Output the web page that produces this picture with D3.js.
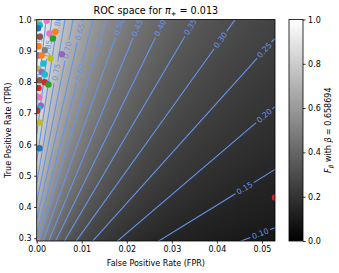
<!DOCTYPE html>
<html>
<head>
<meta charset="utf-8">
<script src="https://cdn.jsdelivr.net/npm/d3@7"></script>
<style>
  body { margin: 0; background: #fff; }
  text { font-family: "DejaVu Sans", sans-serif; }
</style>
</head>
<body>
<svg id="chart"></svg>
<script>
const width = 339, height = 273;
const margin = { top: 19.5, right: 64, bottom: 32, left: 36.7 };

const prior = 0.013;
const beta = 0.658694;

// contour levels of F-beta and where (TPR) each label sits
const levels = [0.05, 0.10, 0.15, 0.20, 0.25, 0.30, 0.35, 0.40, 0.45, 0.50,
                0.55, 0.60, 0.65, 0.70, 0.75, 0.80, 0.85, 0.90, 0.95];
const labelTpr = [null, 0.315, 0.46, 0.692, 0.902, 0.934, 0.976, 0.973, 0.973, 0.976,
                  0.911, 0.831, 0.96, 0.902, 0.831, 0.982, 0.908, 0.80, 0.93];

// classifiers in ROC space (index into tab10 cycle)
const pointFpr   = [0, 0.0007, 0.0022, 0.0041, 0.0028, 0.0036, 0.0007, 0.0003, 0.0004, 0.0004,
                    0.0011, 0.0018, 0.0056, 0.0031, 0.0015, 0.0001, 0.0011, 0.0018, 0.0006, 0.0018,
                    0.0026, 0.0004, 0.0006, 0.0009, 0.0004, 0.0001, 0.0007, 0.0006, 0, 0.0529];
const pointTpr   = [0.996, 0.982, 0.996, 0.961, 0.955, 0.939, 0.945, 0.972, 0.915, 0.885,
                    0.885, 0.902, 0.889, 0.875, 0.859, 0.843, 0.832, 0.824, 0.805, 0.799,
                    0.792, 0.781, 0.751, 0.724, 0.717, 0.708, 0.670, 0.588, 0.291, 0.43];
const pointModel = [8, 9, 6, 1, 6, 2, 5, 0, 1, 4,
                    1, 7, 4, 8, 9, 8, 4, 9, 5, 3,
                    2, 3, 6, 4, 9, 3, 8, 0, 6, 3];

const cbTicks = [0, 0.2, 0.4, 0.6, 0.8, 1.0];
const xTicks = [0, 0.01, 0.02, 0.03, 0.04, 0.05];
const yTicks = [0.3, 0.4, 0.5, 0.6, 0.7, 0.8, 0.9, 1.0];

const b2 = beta * beta;
const fbeta = (fpr, tpr) => (1 + b2) * prior * tpr / (prior * tpr + b2 * prior + (1 - prior) * fpr);
const lineTpr = (c, fpr) => c * (b2 * prior + (1 - prior) * fpr) / (prior * (1 + b2 - c));
const lineFpr = (c, tpr) => (tpr * prior * (1 + b2 - c) - c * b2 * prior) / (c * (1 - prior));

const plotRight = 275;
const plotBottom = 241;

const x = d3.scaleLinear().domain([0, d3.max(pointFpr)]).range([margin.left, plotRight]);
const y = d3.scaleLinear().domain([d3.min(pointTpr), 1]).range([plotBottom, margin.top]);

const svg = d3.select('#chart').attr('width', width).attr('height', height);

svg.append('clipPath').attr('id', 'plot-clip')
  .append('rect')
    .attr('x', margin.left).attr('y', margin.top)
    .attr('width', plotRight - margin.left).attr('height', plotBottom - margin.top);

// background heat map
const pw = Math.round(plotRight - margin.left), ph = Math.round(plotBottom - margin.top);
const canvas = document.createElement('canvas');
canvas.width = pw; canvas.height = ph;
const ctx = canvas.getContext('2d');
const img = ctx.createImageData(pw, ph);
for (let j = 0; j < ph; j++) {
  const tpr = y.invert(margin.top + (j + 0.5) * (plotBottom - margin.top) / ph);
  for (let i = 0; i < pw; i++) {
    const fpr = x.invert(margin.left + (i + 0.5) * (plotRight - margin.left) / pw);
    const v = Math.round(Math.max(0, Math.min(1, fbeta(fpr, tpr))) * 255);
    const k = (j * pw + i) * 4;
    img.data[k] = v; img.data[k + 1] = v; img.data[k + 2] = v; img.data[k + 3] = 255;
  }
}
ctx.putImageData(img, 0, 0);
svg.append('image')
  .attr('x', margin.left).attr('y', margin.top)
  .attr('width', plotRight - margin.left).attr('height', plotBottom - margin.top)
  .attr('preserveAspectRatio', 'none')
  .attr('href', canvas.toDataURL());

// contour lines with inline labels
const contourColor = '#6495ed';
const contours = svg.append('g').attr('clip-path', 'url(#plot-clip)');
levels.forEach((c, i) => {
  const p0 = [x(0), y(lineTpr(c, 0))];
  const p1 = [x(x.domain()[1]), y(lineTpr(c, x.domain()[1]))];
  const dx = p1[0] - p0[0], dy = p1[1] - p0[1];
  const len = Math.hypot(dx, dy);
  const u = [dx / len, dy / len];
  if (labelTpr[i] == null) {
    contours.append('line')
      .attr('x1', p0[0]).attr('y1', p0[1]).attr('x2', p1[0]).attr('y2', p1[1])
      .attr('stroke', contourColor).attr('stroke-width', 1.1);
    return;
  }
  const cx = x(lineFpr(c, labelTpr[i])), cy = y(labelTpr[i]);
  const angle = Math.atan2(dy, dx) * 180 / Math.PI;
  const label = contours.append('text')
    .attr('transform', `translate(${cx},${cy}) rotate(${angle})`)
    .attr('text-anchor', 'middle')
    .attr('dy', '0.35em')
    .attr('font-size', 7.8)
    .attr('fill', contourColor)
    .text(d3.format('.2f')(c));
  const half = label.node().getComputedTextLength() / 2 + 2;
  contours.append('line')
    .attr('x1', p0[0]).attr('y1', p0[1])
    .attr('x2', cx - u[0] * half).attr('y2', cy - u[1] * half)
    .attr('stroke', contourColor).attr('stroke-width', 1.1);
  contours.append('line')
    .attr('x1', cx + u[0] * half).attr('y1', cy + u[1] * half)
    .attr('x2', p1[0]).attr('y2', p1[1])
    .attr('stroke', contourColor).attr('stroke-width', 1.1);
});

// classifiers
const color = d3.scaleOrdinal().domain(d3.range(10)).range(d3.schemeCategory10);
svg.append('g').attr('clip-path', 'url(#plot-clip)')
  .selectAll('circle')
  .data(pointFpr.map((f, i) => ({ fpr: f, tpr: pointTpr[i], model: pointModel[i] })))
  .enter()
  .append('circle')
    .attr('cx', d => x(d.fpr))
    .attr('cy', d => y(d.tpr))
    .attr('r', 3.2)
    .attr('fill', d => color(d.model));

// frame
svg.append('rect')
  .attr('x', margin.left).attr('y', margin.top)
  .attr('width', plotRight - margin.left).attr('height', plotBottom - margin.top)
  .attr('fill', 'none').attr('stroke', '#000').attr('stroke-width', 0.8);

// axes
const styleAxis = g => {
  g.select('.domain').remove();
  g.selectAll('.tick line').attr('stroke', '#000').attr('stroke-width', 0.8);
  g.selectAll('.tick text').attr('font-size', 8).attr('fill', '#000')
    .attr('font-family', '"DejaVu Sans", sans-serif');
};
svg.append('g')
  .attr('transform', `translate(0,${plotBottom})`)
  .call(d3.axisBottom(x).tickValues(xTicks).tickFormat(d3.format('.2f')).tickSize(2.6).tickPadding(2.5))
  .call(styleAxis);
svg.append('g')
  .attr('transform', `translate(${margin.left},0)`)
  .call(d3.axisLeft(y).tickValues(yTicks).tickFormat(d3.format('.1f')).tickSize(2.6).tickPadding(2.5))
  .call(styleAxis);

svg.append('text')
  .attr('x', (margin.left + plotRight) / 2).attr('y', 266)
  .attr('text-anchor', 'middle').attr('font-size', 8)
  .text('False Positive Rate (FPR)');
svg.append('text')
  .attr('transform', `translate(11,${(margin.top + plotBottom) / 2}) rotate(-90)`)
  .attr('text-anchor', 'middle').attr('font-size', 8)
  .text('True Positive Rate (TPR)');

// title
const title = svg.append('text')
  .attr('x', (margin.left + plotRight) / 2).attr('y', 13.5)
  .attr('text-anchor', 'middle').attr('font-size', 9.6);
title.append('tspan').text('ROC space for ');
title.append('tspan').attr('font-style', 'italic').text('π');
title.append('tspan').attr('font-size', 6.8).attr('dy', 2).text('+');
title.append('tspan').attr('dy', -2).text(' = 0.013');

// colorbar
const cbX = 289, cbW = 14;
const cbScale = d3.scaleLinear().domain([0, 1]).range([plotBottom, margin.top]);
const grad = svg.append('defs').append('linearGradient')
  .attr('id', 'cb-grad').attr('x1', 0).attr('y1', 1).attr('x2', 0).attr('y2', 0);
grad.append('stop').attr('offset', 0).attr('stop-color', '#000');
grad.append('stop').attr('offset', 1).attr('stop-color', '#fff');
svg.append('rect')
  .attr('x', cbX).attr('y', cbScale(1))
  .attr('width', cbW).attr('height', cbScale(0) - cbScale(1))
  .attr('fill', 'url(#cb-grad)').attr('stroke', '#000').attr('stroke-width', 0.8);
svg.append('g')
  .attr('transform', `translate(${cbX + cbW},0)`)
  .call(d3.axisRight(cbScale).tickValues(cbTicks).tickFormat(d3.format('.1f')).tickSize(2.6).tickPadding(2.5))
  .call(styleAxis);

const cbLabel = svg.append('text')
  .attr('transform', `translate(331,${(margin.top + plotBottom) / 2}) rotate(-90)`)
  .attr('text-anchor', 'middle').attr('font-size', 8);
cbLabel.append('tspan').attr('font-style', 'italic').text('F');
cbLabel.append('tspan').attr('font-style', 'italic').attr('font-size', 5.8).attr('dy', 1.8).text('β');
cbLabel.append('tspan').attr('dy', -1.8).text(' with ');
cbLabel.append('tspan').attr('font-style', 'italic').text('β');
cbLabel.append('tspan').text(' = 0.658694');
</script>
</body>
</html>
